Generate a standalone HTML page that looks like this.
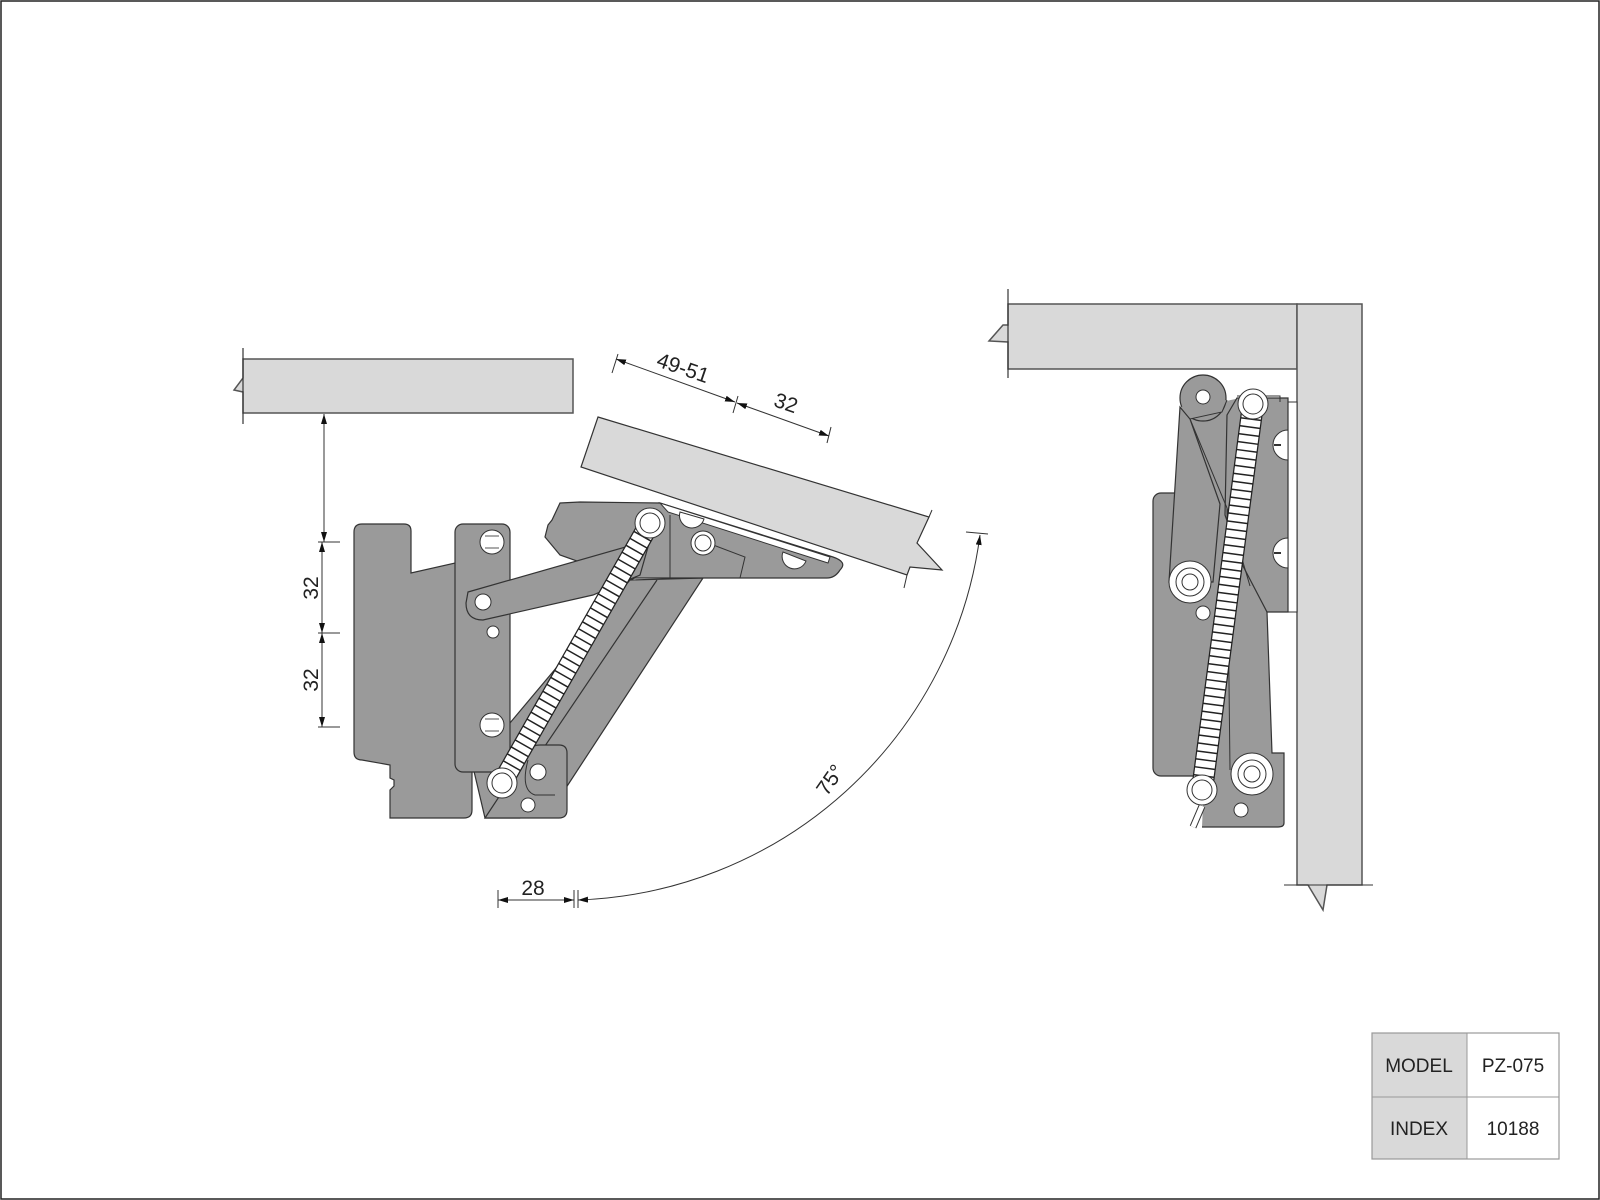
<!DOCTYPE html>
<html><head><meta charset="utf-8"><style>
html,body{margin:0;padding:0;background:#fff}
svg{display:block}
text{font-family:"Liberation Sans",Arial,sans-serif;fill:#222}
</style></head><body>
<svg width="1600" height="1200" viewBox="0 0 1600 1200" xmlns="http://www.w3.org/2000/svg">
<defs>
<marker id="ar" viewBox="0 0 10 6" refX="10" refY="3" markerWidth="10" markerHeight="6" orient="auto-start-reverse" markerUnits="userSpaceOnUse"><path d="M0,0 L10,3 L0,6 z" fill="#111"/></marker>
</defs>
<rect x="1" y="1" width="1598" height="1198" fill="#fff" stroke="#222" stroke-width="1.5"/>

<path d="M243,359 H573 V413 H243 V392 L234,390 L243,378 Z" fill="#d9d9d9" stroke="#555" stroke-width="1.5"/>
<line x1="243" y1="348" x2="243" y2="424" stroke="#333" stroke-width="1.2"/>

<path d="M362,524 H404 Q411,524 411,531 V573 L455,563 L472,590 V810 Q472,818 464,818 H390 V790 L394,786 V780 L390,778 V765 L362,760 Q354,760 354,752 V532 Q354,524 362,524 Z" fill="#9a9a9a" stroke="#333" stroke-width="1.2"/>

<path d="M630,580 L703,578 L560,797 L520,818 L485,818 L473,767 Z" fill="#9a9a9a" stroke="#333" stroke-width="1.2"/>
<path d="M657,580 L520,783" stroke="#333" stroke-width="1.2" fill="none"/>
<path d="M485,818 L520,765 Q525,745 540,745 H559 Q567,745 567,753 V810 Q567,818 559,818 Z" fill="#9a9a9a" stroke="#333" stroke-width="1.2"/>
<path d="M528,760 Q520,790 535,795 L555,795" stroke="#333" stroke-width="1" fill="none"/>

<path d="M560,503 L580,502 L660,503 L833,557 Q848,562 840,570 Q835,578 827,578 H635 L630,580 L560,555 L545,537 L548,525 L552,520 Z" fill="#9a9a9a" stroke="#333" stroke-width="1.2"/>
<path d="M660,503 L830,557 L828,563 L668,512 Z" fill="#fff" stroke="#333" stroke-width="1"/>
<path d="M670,515 V578 M700,540 L745,557 L740,578" stroke="#333" stroke-width="1" fill="none"/>
<path d="M680,512 A11,11 0 0 0 704,519 Z" fill="#fff" stroke="#333"/>
<path d="M783,552 A11,11 0 0 0 806,561 Z" fill="#fff" stroke="#333"/>
<circle cx="703" cy="543" r="12" fill="#fff" stroke="#333"/>
<circle cx="703" cy="543" r="8" fill="none" stroke="#333"/>

<rect x="455" y="524" width="55" height="248" rx="8" fill="#9a9a9a" stroke="#333" stroke-width="1.2"/>
<path d="M468,592 L650,540 L640,575 L593,595 L483,620 Q466,620 466,603 Z" fill="#9a9a9a" stroke="#333" stroke-width="1.2"/>
<circle cx="483" cy="602" r="8" fill="#fff" stroke="#333"/>
<circle cx="493" cy="632" r="6" fill="#fff" stroke="#333"/>
<g stroke="#333" fill="#fff">
<circle cx="492" cy="542" r="12"/><circle cx="492" cy="725" r="12"/>
</g>
<path d="M485,536 H499 M485,548 H499 M485,719 H499 M485,731 H499" stroke="#555" stroke-width="1"/>
<circle cx="538" cy="772" r="8" fill="#fff" stroke="#333"/>
<circle cx="528" cy="805" r="7" fill="#fff" stroke="#333"/>

<line x1="650" y1="523" x2="502" y2="783" stroke="#222" stroke-width="21"/>
<line x1="650" y1="523" x2="502" y2="783" stroke="#fff" stroke-width="18.5" stroke-dasharray="6.5 1.5"/>
<circle cx="650" cy="523" r="15" fill="#fff" stroke="#333"/><circle cx="650" cy="523" r="10" fill="#fff" stroke="#333"/>
<circle cx="502" cy="783" r="15" fill="#fff" stroke="#333"/><circle cx="502" cy="783" r="10" fill="#fff" stroke="#333"/>

<path d="M598,417 L929,517 L917,543 L942,570 L910,567 L907,575 L581,467 Z" fill="#d9d9d9" stroke="#333" stroke-width="1.2"/>
<line x1="929" y1="517" x2="932" y2="510" stroke="#333"/>
<line x1="907" y1="575" x2="904" y2="588" stroke="#333"/>

<line x1="612" y1="373" x2="618" y2="354" stroke="#333"/>
<line x1="733" y1="413" x2="738" y2="396" stroke="#333"/>
<line x1="827" y1="443" x2="831" y2="427" stroke="#333"/>
<line x1="616" y1="359" x2="735" y2="402" stroke="#333" marker-start="url(#ar)" marker-end="url(#ar)"/>
<line x1="737" y1="403" x2="829" y2="436" stroke="#333" marker-start="url(#ar)" marker-end="url(#ar)"/>
<text x="683" y="375" font-size="21" text-anchor="middle" transform="rotate(19 683 368)">49-51</text>
<text x="786" y="410" font-size="21" text-anchor="middle" transform="rotate(19 786 403)">32</text>

<line x1="324" y1="414" x2="324" y2="542" stroke="#333" marker-start="url(#ar)" marker-end="url(#ar)"/>
<line x1="322" y1="542" x2="322" y2="633" stroke="#333" marker-start="url(#ar)" marker-end="url(#ar)"/>
<line x1="322" y1="633" x2="322" y2="727" stroke="#333" marker-start="url(#ar)" marker-end="url(#ar)"/>
<path d="M318,542 H340 M318,633 H340 M318,727 H340" stroke="#333"/>
<text x="0" y="0" font-size="21" text-anchor="middle" transform="translate(318,588) rotate(-90)">32</text>
<text x="0" y="0" font-size="21" text-anchor="middle" transform="translate(318,680) rotate(-90)">32</text>

<path d="M980,535 A420,420 0 0 1 578,900" fill="none" stroke="#333" marker-start="url(#ar)" marker-end="url(#ar)"/>
<line x1="966" y1="532" x2="988" y2="534" stroke="#333"/>
<text x="0" y="0" font-size="21" text-anchor="middle" transform="translate(836,784) rotate(-55)">75°</text>
<line x1="498" y1="900" x2="574" y2="900" stroke="#333" marker-start="url(#ar)" marker-end="url(#ar)"/>
<path d="M498,890 V908 M574,890 V908 M578,890 V908" stroke="#333"/>
<text x="533" y="895" font-size="21" text-anchor="middle">28</text>

<path d="M1008,304 H1297 V369 H1008 V342 L989,341 L1003,325 L1008,325 Z" fill="#d9d9d9" stroke="#555" stroke-width="1.5"/>
<line x1="1008" y1="289" x2="1008" y2="378" stroke="#333" stroke-width="1.2"/>
<path d="M1297,304 H1362 V885 H1327 L1323,910 L1308,885 H1297 Z" fill="#d9d9d9" stroke="#555" stroke-width="1.5"/>
<line x1="1284" y1="885" x2="1373" y2="885" stroke="#333"/>

<rect x="1153" y="493" width="90" height="283" rx="8" fill="#9a9a9a" stroke="#333" stroke-width="1.2"/>
<rect x="1288" y="402" width="9" height="210" fill="#fff" stroke="#333"/>
<path d="M1185,410 L1240,398 L1267,612 L1272,753 H1284 V823 Q1284,827 1278,827 H1202 L1213,582 L1220,504 Z" fill="#9a9a9a" stroke="none"/>
<path d="M1237,398 H1288 V612 H1267 L1243,566 L1225,515 L1227,415 Z" fill="#9a9a9a" stroke="#333" stroke-width="1.2"/>
<path d="M1237,396 H1280 V402" stroke="#333" fill="none"/>
<path d="M1267,612 L1272,753 H1284 V823 Q1284,827 1278,827 H1202" fill="none" stroke="#333" stroke-width="1.2"/>
<path d="M1190,419 L1227,508 L1250,586 M1230,770 L1227,508" stroke="#333" fill="none"/>
<path d="M1180,407 L1169,582 L1213,582 L1220,504 L1190,419 Z" fill="#9a9a9a" stroke="#333" stroke-width="1.2"/>
<circle cx="1203" cy="398" r="23" fill="#9a9a9a" stroke="#333" stroke-width="1.2"/>
<path d="M1180,407 L1190,419 L1222,412 L1227,400" stroke="#333" fill="#9a9a9a"/>
<circle cx="1203" cy="397" r="7" fill="#fff" stroke="#333"/>
<path d="M1288,430 A15,15 0 0 0 1288,460 Z M1288,538 A15,15 0 0 0 1288,568 Z" fill="#fff" stroke="#333"/>
<path d="M1274,445 H1281 M1274,553 H1281" stroke="#333" stroke-width="2"/>
<g fill="#fff" stroke="#333">
<circle cx="1190" cy="582" r="21"/><circle cx="1190" cy="582" r="14"/><circle cx="1190" cy="582" r="8"/>
<circle cx="1252" cy="774" r="21"/><circle cx="1252" cy="774" r="14"/><circle cx="1252" cy="774" r="8"/>
<circle cx="1203" cy="613" r="7"/><circle cx="1241" cy="810" r="7"/>
</g>
<line x1="1202" y1="806" x2="1193" y2="827" stroke="#333" stroke-width="7"/>
<line x1="1202" y1="806" x2="1193" y2="827" stroke="#fff" stroke-width="5"/>
<line x1="1253" y1="404" x2="1202" y2="790" stroke="#222" stroke-width="22"/>
<line x1="1253" y1="404" x2="1202" y2="790" stroke="#fff" stroke-width="19.5" stroke-dasharray="6.5 1.5"/>
<circle cx="1253" cy="404" r="15" fill="#fff" stroke="#333"/><circle cx="1253" cy="404" r="10" fill="#fff" stroke="#333"/>
<circle cx="1202" cy="790" r="15" fill="#fff" stroke="#333"/><circle cx="1202" cy="790" r="10" fill="#fff" stroke="#333"/>

<rect x="1372" y="1033" width="95" height="126" fill="#d9d9d9"/>
<rect x="1372" y="1033" width="187" height="126" fill="none" stroke="#999" stroke-width="1.2"/>
<line x1="1467" y1="1033" x2="1467" y2="1159" stroke="#999"/>
<line x1="1372" y1="1097" x2="1559" y2="1097" stroke="#999"/>
<text x="1419" y="1072" font-size="19" text-anchor="middle">MODEL</text>
<text x="1513" y="1072" font-size="19" text-anchor="middle">PZ-075</text>
<text x="1419" y="1135" font-size="19" text-anchor="middle">INDEX</text>
<text x="1513" y="1135" font-size="19" text-anchor="middle">10188</text>
</svg>
</body></html>
